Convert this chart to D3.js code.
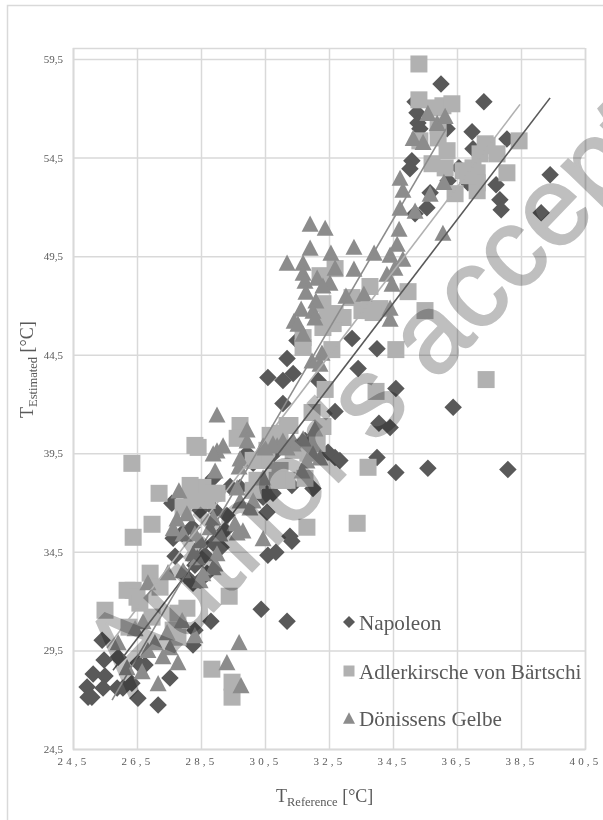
<!DOCTYPE html>
<html><head><meta charset="utf-8">
<script src="https://cdn.jsdelivr.net/npm/d3@7/dist/d3.min.js"></script>
<style>html,body{margin:0;padding:0;background:#fff}svg{display:block;filter:blur(.45px)}</style>
</head><body><svg id="c" width="603" height="820"></svg>
<script>
const xTicks=[24.5,26.5,28.5,30.5,32.5,34.5,36.5,38.5,40.5];
const yTicks=[24.5,29.5,34.5,39.5,44.5,49.5,54.5,59.5];
const legendLabels=["Napoleon","Adlerkirsche von Bärtschi","Dönissens Gelbe"];
const napoleon=[[25.41,30.02],[25.47,29.01],[25.13,28.3],[25.5,28.2],[24.94,27.64],[25.44,27.59],[25.88,27.59],[26.06,27.59],[26.34,27.84],[24.97,27.13],[25.09,27.13],[26.53,27.08],[27.16,26.73],[27.53,28.1],[25.91,29.16],[26.75,28.76],[26.53,28.86],[28.31,30.53],[28.25,29.77],[28.81,30.98],[30.38,31.59],[31.19,30.98],[27.63,35.19],[27.69,34.28],[27.59,36.96],[27.91,35.44],[28.47,36.61],[28.94,36.61],[28.88,34.94],[29.13,34.73],[28.25,32.91],[28.47,33.06],[28.69,33.42],[29.41,37.82],[29.72,37.77],[30.56,37.47],[30.75,37.47],[30.44,37.27],[30.56,36.51],[29.31,36.35],[31.28,35.29],[31.34,35.04],[30.59,34.33],[30.84,34.48],[29.94,39.5],[30.13,38.99],[28.88,38.23],[31.34,37.87],[28.22,35.75],[31.06,42.03],[31.19,44.31],[30.59,43.35],[31.06,43.19],[31.38,43.55],[32.16,43.19],[32.69,41.62],[33.41,43.8],[34,44.81],[33.22,45.32],[34.59,42.79],[34.06,41.02],[34.41,40.81],[34,39.29],[34.59,38.53],[35.59,38.74],[38.09,38.68],[36.38,41.83],[32.69,39.29],[32.84,39.14],[32.47,39.55],[32,37.72],[31.5,45.22],[36,58.24],[37.34,57.33],[36.97,55.81],[38.06,55.45],[35.19,57.33],[35.25,56.77],[35.28,56.26],[35.34,55.96],[35.09,54.34],[35.03,53.93],[36.56,53.98],[37,54.95],[37.72,53.12],[37.84,52.36],[37.88,51.86],[39.41,53.63],[39.13,51.7],[35.56,51.96],[35.19,51.65],[35.66,52.72],[36.22,53.33],[36.19,55.96],[36.84,53.22],[31.75,40.15],[31.13,39.9],[30.72,39.39],[28.31,33.82],[28.63,34.33],[28,33.31],[29.25,35.59]];
const adlerkirsche=[[35.31,59.25],[35.31,57.43],[35.81,57.02],[36.06,57.13],[36.34,57.23],[35.91,56.11],[35.91,55.5],[35.34,55.35],[36.19,54.85],[35.72,54.19],[36.13,53.98],[36.44,52.67],[37.38,55.2],[37.44,55.1],[37.75,54.69],[38.44,55.35],[38.06,53.73],[36.69,53.83],[37,53.98],[37.13,53.73],[37.13,53.22],[37.13,52.82],[36.84,53.58],[37.22,54.69],[34.97,47.7],[35.5,46.74],[34.59,44.76],[37.41,43.24],[33.97,42.64],[33.78,47.96],[33.78,46.74],[34.09,46.84],[33.53,46.74],[33.88,46.64],[33.22,47.4],[32.69,48.87],[32.22,48.51],[32.31,47.09],[32.94,46.39],[32.63,46.08],[32.31,45.88],[32.59,44.76],[31.69,45.37],[31.69,44.87],[32.69,46.59],[32.44,46.49],[32.38,42.74],[31.97,41.57],[32.31,40.86],[31.28,40.91],[30.66,40.41],[32.13,40],[31.84,39.5],[33.72,38.79],[31.06,38.13],[31.75,38.23],[33.38,35.95],[31.81,35.75],[30.5,39.14],[31.38,39.65],[30.97,40.51],[28.31,39.9],[28.41,39.8],[29.72,40.91],[29.63,40.26],[31.19,40.91],[26.34,38.99],[27.19,37.47],[26.97,35.9],[26.38,35.24],[28.25,37.77],[28.56,37.77],[29,37.47],[28.22,37.11],[28.69,37.11],[27.94,36.76],[28.88,37.47],[28.16,37.87],[30.25,38.13],[30.25,39.14],[30.56,39.65],[30.97,38.63],[31.19,38.13],[26.91,33.42],[26.38,32.55],[26.19,32.55],[26.5,32.2],[27.22,32.71],[25.5,31.54],[28.06,31.64],[27.78,31.39],[26.25,30.68],[26.97,31.19],[29.38,32.25],[28.84,28.55],[29.47,27.89],[29.47,27.13],[27.63,30.53],[27.78,30.17],[26.59,31.9],[30.13,39.14],[30.13,37.62],[30.88,38.13]];
const doenissens=[[31.91,51.15],[32.38,50.94],[31.91,49.93],[32.56,49.68],[33.28,49.98],[31.19,49.17],[31.69,49.17],[32.69,48.92],[33.28,48.87],[33.91,49.68],[31.69,48.66],[32.13,48.41],[31.75,48.26],[32.53,48.16],[32.31,48.01],[31.78,47.7],[33.03,47.5],[33.59,47.6],[32.09,47.25],[31.63,46.84],[32,46.74],[32.06,46.39],[31.41,46.23],[31.53,46.08],[31.69,45.57],[32.28,44.61],[32.22,44.05],[34.72,53.48],[34.81,52.87],[34.72,51.96],[35.19,51.81],[34.69,50.89],[34.63,50.13],[34.41,49.58],[34.81,49.37],[34.56,48.92],[34.31,48.61],[34.47,48.11],[34.41,46.89],[34.41,46.33],[36.06,50.69],[35.59,56.77],[35.88,56.26],[36.13,56.62],[35.13,55.5],[35.44,55.3],[35.66,52.67],[36.09,53.27],[29,41.47],[29.94,40.71],[29.94,40.15],[29.19,39.9],[29,39.65],[28.88,39.5],[29.72,39.24],[29.69,38.84],[28.94,38.63],[31.06,40],[30.88,39.9],[30.44,39.9],[27.81,37.62],[28.06,36.46],[27.75,36.2],[27.63,35.7],[27.94,35.44],[28.31,35.44],[28.47,35.09],[28.78,35.75],[28.88,36.25],[29.56,35.95],[29.81,35.59],[29.63,35.49],[30.44,35.19],[29,34.43],[28.38,34.23],[28.94,33.92],[29.72,37.11],[30.03,36.76],[29.63,37.77],[30.13,37.11],[29.09,35.44],[30.44,38.28],[31.19,39.8],[31.38,40],[27.47,33.47],[27.94,33.57],[28.47,33.06],[28.88,33.72],[28.25,34.43],[28.56,33.42],[26.84,32.96],[27.91,31.04],[26.69,30.98],[26.44,30.63],[27.44,30.43],[27.06,29.92],[26.84,29.52],[27.53,29.67],[27.31,29.21],[27.78,28.91],[25.91,29.92],[26.19,28.65],[26.66,28.45],[27.16,27.84],[28.31,30.28],[29.69,29.92],[29.31,28.91],[29.75,27.74],[31.69,40.26],[31.38,40.15],[31.06,40.15],[30.75,40],[30.5,39.8],[32,39.5],[32.22,39.29],[31.81,39.14],[31.66,38.63],[32.06,40.76],[31.97,44.21]];
const trendNapoleon=[[25.75,28.5],[39.41,57.53]];
const trendAdlerkirsche=[[25.56,29.62],[38.47,57.2]];
const trendDoenissens=[[25.72,26.98],[36.16,55.96]];

const svg=d3.select("#c");
const mL=73,mR=585,mT=48,mB=749;
const x=d3.scaleLinear().domain([24.5,40.5]).range([mL,mR]);
const y=d3.scaleLinear().domain([24.5,60.06]).range([mB,mT]);
const GRID="#d9d9d9",TXT="#595959",serif="'Liberation Serif',serif";
const fmt=d=>String(d).replace(".",",");

svg.append("rect").attr("x",7.5).attr("y",5.5).attr("width",640).attr("height",860)
  .attr("fill","#fff").attr("stroke",GRID).attr("stroke-width",1.5);

const gx=svg.append("g").attr("transform",`translate(0,${mB})`)
  .call(d3.axisBottom(x).tickValues(xTicks).tickFormat(fmt).tickSize(-(mB-mT)).tickPadding(8));
const gy=svg.append("g").attr("transform",`translate(${mL},0)`)
  .call(d3.axisLeft(y).tickValues(yTicks).tickFormat(fmt).tickSize(-(mR-mL)).tickPadding(10));
[gx,gy].forEach(g=>{
  g.selectAll(".domain").attr("stroke",GRID).attr("stroke-width",1.5);
  g.selectAll(".tick line").attr("stroke",GRID).attr("stroke-width",1.5);
  g.selectAll("text").attr("font-family",serif).attr("font-size",11).attr("fill",TXT);
});
gx.selectAll("text").attr("letter-spacing",3.2);

const diamond={draw(c,s){const r=Math.sqrt(s)/2;c.moveTo(0,-r);c.lineTo(r,0);c.lineTo(0,r);c.lineTo(-r,0);c.closePath();}};
const square={draw(c,s){const r=Math.sqrt(s)/2;c.rect(-r,-r,2*r,2*r);}};
const tri={draw(c,s){const r=Math.sqrt(s)/2;c.moveTo(0,-r*.95);c.lineTo(r,r*.95);c.lineTo(-r,r*.95);c.closePath();}};

const series=[
 {d:napoleon,t:diamond,c:"#595959",s:17.5,tr:trendNapoleon},
 {d:adlerkirsche,t:square,c:"#b1b1b1",s:17,tr:trendAdlerkirsche},
 {d:doenissens,t:tri,c:"#8c8c8c",s:17,tr:trendDoenissens}];
series.forEach(o=>{
  svg.append("g").selectAll("path").data(o.d).join("path")
    .attr("d",d3.symbol().type(o.t).size(o.s*o.s)())
    .attr("transform",d=>`translate(${x(d[0])},${y(d[1])})`)
    .attr("fill",o.c);
});
const line=d3.line().x(d=>x(d[0])).y(d=>y(d[1]));
series.forEach(o=>{
  svg.append("path").attr("d",line(o.tr)).attr("fill","none").attr("stroke",o.c).attr("stroke-width",1.6);
});

const title=(g,sub)=>{
  const t=g.append("text").attr("font-family",serif).attr("fill",TXT).attr("font-size",18);
  t.append("tspan").text("T");
  t.append("tspan").attr("font-size",12.5).attr("dy",4).text(sub);
  t.append("tspan").attr("dy",-4).text(" [°C]");
  return t;
};
title(svg.append("g").attr("transform","translate(276,802)"),"Reference");
title(svg.append("g").attr("transform","translate(33,418) rotate(-90)"),"Estimated");

const ly=[622,671,718],lm=[12,11,12];
series.forEach((o,i)=>{
  svg.append("path").attr("d",d3.symbol().type(o.t).size(lm[i]*lm[i])())
    .attr("transform",`translate(349,${ly[i]})`).attr("fill",o.c);
  svg.append("text").attr("x",359).attr("y",ly[i]+8).attr("font-family",serif)
    .attr("font-size",21.2).attr("fill",TXT).text(legendLabels[i]);
});

svg.append("text").attr("transform","translate(130,698) rotate(-46)")
  .attr("font-family","'Liberation Sans',sans-serif").attr("font-size",112)
  .attr("fill","#bfbfbf").attr("stroke","#bfbfbf").attr("stroke-width",2)
  .style("mix-blend-mode","multiply").text("Author's accepted");
</script></body></html>
